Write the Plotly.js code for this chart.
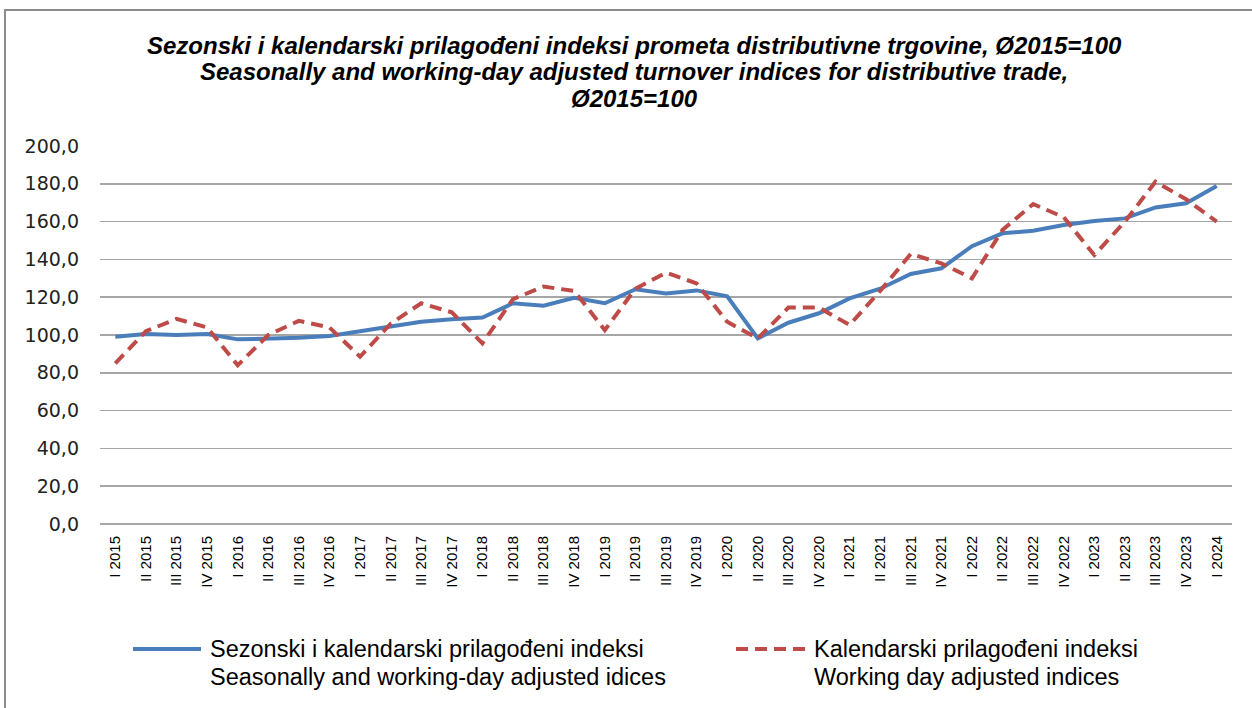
<!DOCTYPE html>
<html>
<head>
<meta charset="utf-8">
<script src="https://cdn.plot.ly/plotly-3.0.1.min.js"></script>
<style>
  html, body { margin: 0; padding: 0; background: #fff; }
  #chart { width: 1252px; height: 708px; }
</style>
</head>
<body>
<div id="chart"></div>
<script>
const quarters = [
  "I 2015","II 2015","III 2015","IV 2015",
  "I 2016","II 2016","III 2016","IV 2016",
  "I 2017","II 2017","III 2017","IV 2017",
  "I 2018","II 2018","III 2018","IV 2018",
  "I 2019","II 2019","III 2019","IV 2019",
  "I 2020","II 2020","III 2020","IV 2020",
  "I 2021","II 2021","III 2021","IV 2021",
  "I 2022","II 2022","III 2022","IV 2022",
  "I 2023","II 2023","III 2023","IV 2023",
  "I 2024"
];

const seasonallyAdjusted = [
  99.1, 100.5, 100.0, 100.5,
  97.7, 98.0, 98.5, 99.5,
  102.0, 105.0, 107.0, 108.3,
  109.2, 116.8, 115.5, 119.7,
  116.8, 124.2, 122.0, 123.6,
  120.5, 98.2, 106.5, 111.5,
  119.4, 124.5, 132.3, 135.3,
  147.0, 153.8, 155.2, 158.2,
  160.3, 161.7, 167.5, 169.7,
  178.8
];

const workingDayAdjusted = [
  85.0, 102.0, 108.5, 104.0,
  84.0, 100.0, 107.5, 104.0,
  88.5, 106.0, 116.8, 112.0,
  95.6, 119.0, 125.6, 123.3,
  102.6, 124.5, 133.0, 127.3,
  107.0, 98.2, 114.5, 114.5,
  105.3, 123.3, 142.9, 137.9,
  130.0, 155.6, 169.3, 162.3,
  142.3, 160.0, 181.1, 171.8,
  160.0
];

const yTicks = [0, 20, 40, 60, 80, 100, 120, 140, 160, 180, 200];
const yTickLabels = ["0,0","20,0","40,0","60,0","80,0","100,0","120,0","140,0","160,0","180,0","200,0"];

const titleLines = [
  "Sezonski i kalendarski prilagođeni indeksi prometa distributivne trgovine, Ø2015=100",
  "Seasonally and working-day adjusted turnover indices for distributive trade,",
  "Ø2015=100"
];
const legendNames = [
  ["Sezonski i kalendarski prilagođeni indeksi", "Seasonally and working-day adjusted idices"],
  ["Kalendarski prilagođeni indeksi", "Working day adjusted indices"]
];

const blue = "#4A7EBB";
const red = "#BE4B48";

const traces = [
  {
    x: quarters, y: seasonallyAdjusted, type: "scatter", mode: "lines",
    name: legendNames[0].join(" "),
    line: { color: blue, width: 4 }, showlegend: false
  },
  {
    x: quarters, y: workingDayAdjusted, type: "scatter", mode: "lines",
    name: legendNames[1].join(" "),
    line: { color: red, width: 4, dash: "12px,7px" }, showlegend: false
  }
];

// plot area in pixels: left 100, right 1232, top 146, bottom 524
const L = 100, R = 1232, T = 146, B = 524;
const px = x => (x - L) / (R - L);
const py = y => (B - y) / (B - T);

const annotations = [];
const titleY = [45, 71, 98];
titleLines.forEach((t, i) => {
  annotations.push({
    text: "<b><i>" + t + "</i></b>",
    xref: "paper", yref: "paper", x: px(634), y: py(titleY[i]),
    xanchor: "center", yanchor: "middle", showarrow: false,
    font: { family: "Liberation Sans, Arial, sans-serif", size: 24, color: "#000" }
  });
});
const legTextX = [208, 812];
const legLineY = [649, 677];
legendNames.forEach((lines, k) => {
  lines.forEach((t, i) => {
    annotations.push({
      text: t, xref: "paper", yref: "paper", x: px(legTextX[k]), y: py(legLineY[i]),
      xanchor: "left", yanchor: "middle", showarrow: false,
      font: { family: "Liberation Sans, Arial, sans-serif", size: 23.5, color: "#000" }
    });
  });
});

const shapes = [
  // outer chart frame (top and left visible)
  { type: "line", xref: "paper", yref: "paper", x0: px(4), x1: px(1260), y0: py(10), y1: py(10),
    line: { color: "#8c8c8c", width: 2 } },
  { type: "line", xref: "paper", yref: "paper", x0: px(5), x1: px(5), y0: py(10), y1: py(720),
    line: { color: "#8c8c8c", width: 2 } },
  // legend samples
  { type: "line", xref: "paper", yref: "paper", x0: px(133), x1: px(201), y0: py(649), y1: py(649),
    line: { color: blue, width: 4 } },
  { type: "line", xref: "paper", yref: "paper", x0: px(736), x1: px(806), y0: py(649), y1: py(649),
    line: { color: red, width: 4, dash: "12px,7px" } }
];

const layout = {
  width: 1252, height: 708,
  margin: { l: L, r: 1252 - R, t: T, b: 708 - B, pad: 0 },
  paper_bgcolor: "#fff", plot_bgcolor: "#fff",
  showlegend: false,
  xaxis: {
    type: "category", range: [-0.5, quarters.length - 0.5],
    tickangle: -90, showgrid: false, zeroline: false,
    showline: false, ticks: "", ticklabelstandoff: 8,
    tickfont: { family: "Liberation Sans, Arial, sans-serif", size: 15, color: "#000" },
    fixedrange: true
  },
  yaxis: {
    range: [0, 200], tickvals: yTicks, ticktext: yTickLabels,
    showgrid: true, gridcolor: "#a6a6a6", gridwidth: 1.5,
    zeroline: true, zerolinecolor: "#a6a6a6", zerolinewidth: 1.5,
    showline: false, ticks: "", ticklabelstandoff: 20,
    tickfont: { family: "DejaVu Sans, sans-serif", size: 19, color: "#222" },
    fixedrange: true
  },
  annotations: annotations,
  shapes: shapes
};

Plotly.newPlot("chart", traces, layout, { displayModeBar: false, staticPlot: true });
</script>
</body>
</html>
